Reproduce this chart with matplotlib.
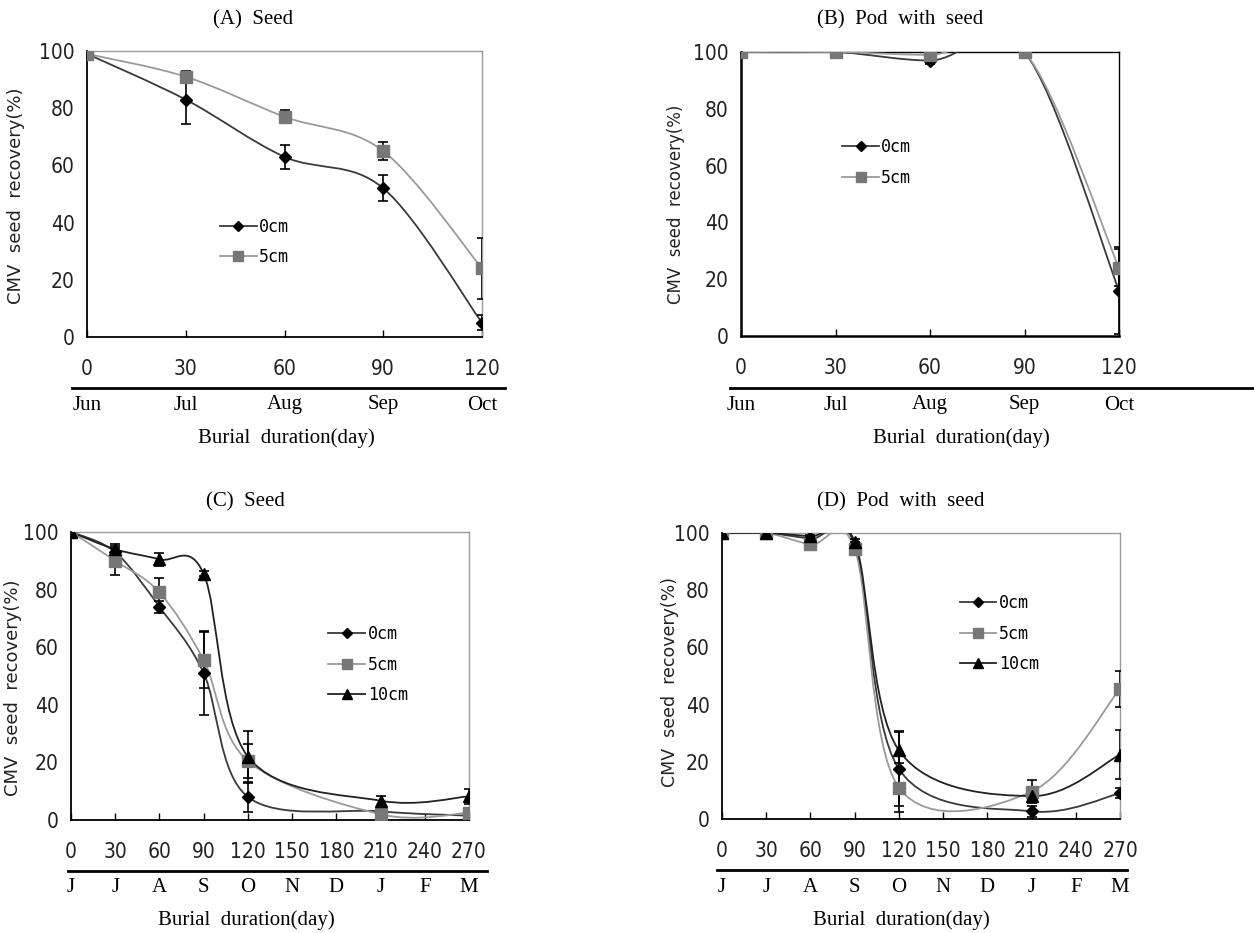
import numpy as np
import matplotlib
matplotlib.use('Agg')
import matplotlib.pyplot as plt
from matplotlib.path import Path
from matplotlib.patches import PathPatch
from matplotlib.lines import Line2D
from matplotlib.transforms import blended_transform_factory

# ---- data ----
days_ab = [0, 30, 60, 90, 120]
months_ab = ['Jun', 'Jul', 'Aug', 'Sep', 'Oct']

a_0cm = [99, 83, 63, 52, 5]
a_0cm_err = [0.5, 8.6, 4.1, 4.6, 2.6]
a_5cm = [99, 91, 77, 65, 24]
a_5cm_err = [0.5, 2.0, 2.2, 3.2, 10.6]

b_0cm = [100, 100, 97, 100, 16]
b_0cm_err = [0, 0, 1.2, 0, 15.3]
b_5cm = [100, 100, 99, 100, 24]
b_5cm_err = [0, 0, 0.5, 0, 6.5]

days_cd = [0, 30, 60, 90, 120, 210, 270]
tick_days_cd = [0, 30, 60, 90, 120, 150, 180, 210, 240, 270]
months_cd = ['J', 'J', 'A', 'S', 'O', 'N', 'D', 'J', 'F', 'M']

c_0cm = [100, 93, 74, 51, 8, 3, 1.5]
c_0cm_err = [0.5, 1.5, 2.0, 14.5, 5.2, 0.5, 0.5]
c_5cm = [100, 90, 79, 55.5, 20.5, 2, 2.5]
c_5cm_err = [0.5, 5.0, 5.0, 9.7, 6.0, 0.5, 0.8]
c_10cm = [100, 94, 90.5, 85.5, 22, 6.7, 8.2]
c_10cm_err = [0.5, 2.0, 2.2, 0.8, 9.0, 1.7, 2.7]

d_0cm = [100, 100, 98, 96, 17.5, 2.7, 9]
d_0cm_err = [0, 0, 1.0, 1.0, 13.0, 2.0, 1.8]
d_5cm = [100, 100, 96, 94.5, 11, 9.6, 45.5]
d_5cm_err = [0, 0, 1.5, 1.0, 8.5, 4.0, 6.3]
d_10cm = [100, 100, 98.8, 97, 24, 8, 22.5]
d_10cm_err = [0, 0, 0.5, 0.8, 6.6, 1.5, 8.5]

W, H = 1254, 933
fig = plt.figure(figsize=(W / 100, H / 100), dpi=100)

SANS = ['DejaVu Sans']
SERIF = ['Liberation Serif', 'DejaVu Serif']


def px_axes(l, t, r, b):
    return fig.add_axes([l / W, 1 - b / H, (r - l) / W, (b - t) / H])


def smooth_path(x, y):
    # Excel-style smoothed line: cubic Bezier through every point
    pts = np.column_stack([x, y]).astype(float)
    n = len(pts)
    verts = [pts[0]]
    codes = [Path.MOVETO]
    for i in range(n - 1):
        p_prev = pts[i - 1] if i > 0 else pts[i]
        p_next2 = pts[i + 2] if i + 2 < n else pts[i + 1]
        c1 = pts[i] + (pts[i + 1] - p_prev) / 6
        c2 = pts[i + 1] - (p_next2 - pts[i]) / 6
        verts += [c1, c2, pts[i + 1]]
        codes += [Path.CURVE4] * 3
    return Path(verts, codes)


def series(ax, x, y, err, line_color, marker, mfc, ms, label):
    ax.add_patch(PathPatch(smooth_path(x, y), fc='none', ec=line_color, lw=1.3, zorder=3))
    ax.errorbar(x, y, yerr=err, fmt='none', ecolor='black', elinewidth=1.2,
                capsize=3.5, capthick=1.2, zorder=4)
    ax.plot(x, y, linestyle='none', marker=marker, color=mfc, mec=mfc, ms=ms, zorder=5)
    # proxy for legend
    ax.plot([], [], color=line_color, lw=1.3, marker=marker, mfc=mfc, mec=mfc, ms=ms - 1, label=label)


def style_axes(ax, xmax, xticks, frame_color):
    ax.set_xlim(0, xmax)
    ax.set_ylim(0, 100)
    ax.set_xticks(xticks)
    ax.set_yticks([0, 20, 40, 60, 80, 100])
    ax.tick_params(axis='x', direction='in', length=5, width=1, pad=16, labelsize=15)
    ax.tick_params(axis='y', length=0, pad=9, labelsize=15)
    for lab in ax.get_xticklabels() + ax.get_yticklabels():
        lab.set_family(SANS)
        lab.set_fontstretch('condensed')
        lab.set_color('#222222')
    ax.spines['left'].set_color('black')
    ax.spines['bottom'].set_color('black')
    ax.spines['left'].set_linewidth(1.3)
    ax.spines['bottom'].set_linewidth(1.3)
    for s in ['top', 'right']:
        ax.spines[s].set_color(frame_color)
        ax.spines[s].set_linewidth(1.0)


def months(ax, xs, labels, y_px):
    tr = blended_transform_factory(ax.transData, fig.transFigure)
    for xv, lab in zip(xs, labels):
        ax.text(xv, 1 - y_px / H, lab, transform=tr, ha='center', va='center',
                fontsize=15, family=SERIF, clip_on=False)


def hline(x0, x1, y):
    fig.add_artist(Line2D([x0 / W, x1 / W], [1 - y / H] * 2, color='black', lw=2.0,
                          transform=fig.transFigure))


def ftext(x, y, s, **kw):
    fig.text(x / W, 1 - y / H, s, ha='center', va='center', **kw)


def legend(ax, x, y):
    leg = ax.legend(loc='upper left', bbox_to_anchor=(x, y), frameon=False,
                    handlelength=2.2, handletextpad=0.15, labelspacing=0.75,
                    borderaxespad=0, prop={'family': 'DejaVu Sans Mono', 'size': 12})
    for t in leg.get_texts():
        t.set_fontstretch('condensed')


# ---- (A) Seed ----
axA = px_axes(87, 51, 482, 337)
series(axA, days_ab, a_0cm, a_0cm_err, '#3a3a3a', 'D', 'black', 6.5, '0cm')
series(axA, days_ab, a_5cm, a_5cm_err, '#9a9a9a', 's', '#777777', 8, '5cm')
style_axes(axA, 120, days_ab, '#9a9a9a')
legend(axA, 0.32, 0.44)
months(axA, days_ab, months_ab, 405)
hline(72, 505, 388)
ftext(253, 20, '(A)  Seed', fontsize=15, family=SERIF)
ftext(286, 438, 'Burial  duration(day)', fontsize=15, family=SERIF)
ftext(16, 196, 'CMV  seed  recovery(%)', fontsize=13, family=SANS, rotation=90, color='#222222')

# ---- (B) Pod with seed ----
axB = px_axes(741, 52, 1119, 336)
series(axB, days_ab, b_0cm, b_0cm_err, '#3a3a3a', 'D', 'black', 6.5, '0cm')
series(axB, days_ab, b_5cm, b_5cm_err, '#9a9a9a', 's', '#777777', 8, '5cm')
style_axes(axB, 120, days_ab, 'black')
axB.spines['left'].set_linewidth(1.8)
axB.spines['bottom'].set_linewidth(1.8)
legend(axB, 0.25, 0.72)
months(axB, days_ab, months_ab, 405)
hline(730, 1254, 388)
ftext(900, 20, '(B)  Pod  with  seed', fontsize=15, family=SERIF)
ftext(961, 438, 'Burial  duration(day)', fontsize=15, family=SERIF)
ftext(676, 204, 'CMV  seed  recovery(%)', fontsize=12, family=SANS, rotation=90, color='#222222')

# ---- (C) Seed ----
axC = px_axes(71, 532, 469, 820)
series(axC, days_cd, c_0cm, c_0cm_err, '#3a3a3a', 'D', 'black', 6.5, '0cm')
series(axC, days_cd, c_5cm, c_5cm_err, '#9a9a9a', 's', '#777777', 8, '5cm')
series(axC, days_cd, c_10cm, c_10cm_err, '#222222', '^', 'black', 8, '10cm')
style_axes(axC, 270, tick_days_cd, '#9a9a9a')
legend(axC, 0.63, 0.70)
months(axC, tick_days_cd, months_cd, 887)
hline(68, 487, 871)
ftext(245, 502, '(C)  Seed', fontsize=15, family=SERIF)
ftext(246, 920, 'Burial  duration(day)', fontsize=15, family=SERIF)
ftext(13, 688, 'CMV  seed  recovery(%)', fontsize=13, family=SANS, rotation=90, color='#222222')

# ---- (D) Pod with seed ----
axD = px_axes(722, 533, 1120, 819)
series(axD, days_cd, d_0cm, d_0cm_err, '#3a3a3a', 'D', 'black', 6.5, '0cm')
series(axD, days_cd, d_5cm, d_5cm_err, '#9a9a9a', 's', '#777777', 8, '5cm')
series(axD, days_cd, d_10cm, d_10cm_err, '#222222', '^', 'black', 8, '10cm')
style_axes(axD, 270, tick_days_cd, '#9a9a9a')
legend(axD, 0.58, 0.81)
months(axD, tick_days_cd, months_cd, 887)
hline(717, 1127, 870)
ftext(901, 502, '(D)  Pod  with  seed', fontsize=15, family=SERIF)
ftext(901, 920, 'Burial  duration(day)', fontsize=15, family=SERIF)
ftext(670, 682, 'CMV  seed  recovery(%)', fontsize=12.5, family=SANS, rotation=90, color='#222222')

fig.savefig('out.png', dpi=100, facecolor='white')
